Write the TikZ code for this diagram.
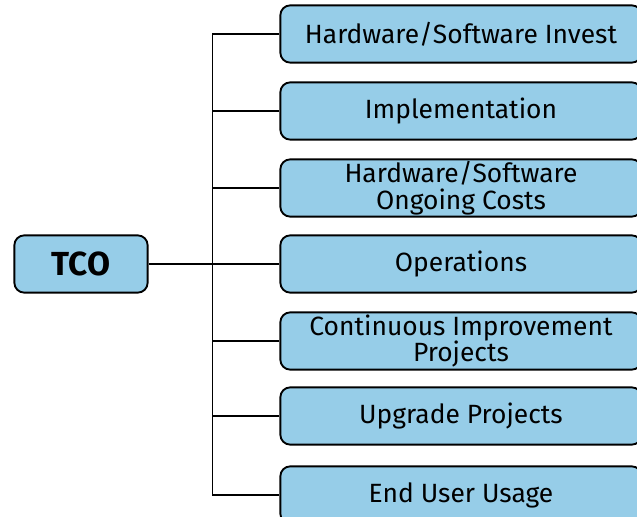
\documentclass[tikz,border=0pt]{standalone}
\usepackage{fontspec}
\setmainfont{Fira Sans}
\definecolor{boxblue}{RGB}{150,205,232}
\tikzset{
  costbox/.style={draw=black, line width=1.4pt, fill=boxblue, rounded corners=7.5pt,
    minimum width=271pt, minimum height=43pt, align=center, inner sep=0pt,
    font=\fontsize{19.8}{19.8}\selectfont},
  tcobox/.style={costbox, minimum width=100pt, font=\fontsize{25}{25}\selectfont\bfseries},
  branch/.style={line width=1.1pt}
}
\begin{document}
\begin{tikzpicture}[x=0.75pt,y=0.75pt,yscale=-1]

\useasboundingbox (0,0) rectangle (637,517);
\clip (0,0) rectangle (637,517);

%Root
\node[tcobox] (tco) at (81,264) {TCO};

%Cost boxes
\node[costbox] (hwinvest) at (461,34) {Hardware/Software Invest};
\node[costbox] (impl) at (461,111) {Implementation};
\node[costbox] (hwongoing) at (461,188) {Hardware/Software\\Ongoing Costs};
\node[costbox] (ops) at (461,264) {Operations};
\node[costbox] (cip) at (461,341) {Continuous Improvement\\Projects};
\node[costbox] (upgrade) at (461,416) {Upgrade Projects};
\node[costbox] (enduser) at (461,495) {End User Usage};

%Branches
\foreach \b in {hwinvest,impl,hwongoing,ops,cip,upgrade,enduser}
  \draw[branch] (\b.west) -- ++(-67,0) |- (tco.east);

\end{tikzpicture}
\end{document}
